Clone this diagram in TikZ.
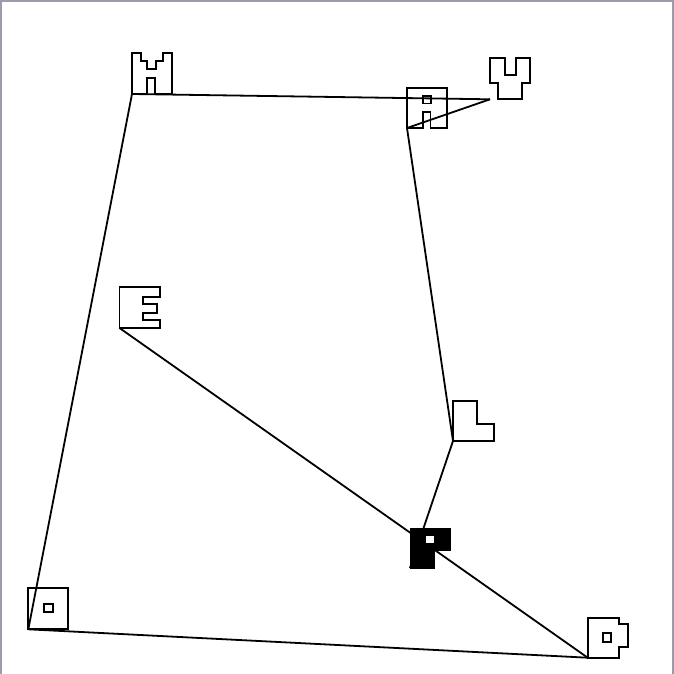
\documentclass[tikz,border=0pt]{standalone}
\begin{document}
\begin{tikzpicture}[x=1pt,y=-1pt,
  glyph/.style={draw=black,line width=1.8pt,line join=miter},
  solidglyph/.style={fill=black,draw=black,line width=1pt},
  edge/.style={draw=black,line width=1.8pt}]
\definecolor{frame}{RGB}{155,155,172}
\useasboundingbox (0,0) rectangle (674,674);
\fill[white] (0,0) rectangle (674,674);
\draw[frame,line width=2pt] (1,675) -- (1,1) -- (673,1) -- (673,675);
% anchors (bottom-left corners of glyphs)
\coordinate (castle) at (132,94);
\coordinate (gate) at (407,128);
\coordinate (cup) at (490,99.3);
\coordinate (eglyph) at (119.5,328);
\coordinate (lglyph) at (453,441);
\coordinate (pglyph) at (410,568);
\coordinate (sq) at (28.3,629.3);
\coordinate (dglyph) at (587.7,657.7);
% connectors
\draw[edge] (castle) -- (cup);
\draw[edge] (gate) -- (cup);
\draw[edge] (gate) -- (lglyph);
\draw[edge] (lglyph) -- (pglyph);
\draw[edge] (eglyph) -- (dglyph);
\draw[edge] (castle) -- (sq);
\draw[edge] (sq) -- (dglyph);
% glyphs
\draw[glyph] (132,94) -- (132,53) -- (141,53) -- (141,61) -- (146.7,61) -- (146.7,69.3) -- (156,69.3) -- (156,61) -- (162.7,61) -- (162.7,53) -- (172,53) -- (172,94) -- (155,94) -- (155,78.3) -- (146.7,78.3) -- (146.7,94) -- cycle;
\draw[glyph] (407,128) -- (407,88) -- (447,88) -- (447,128) -- (430.5,128) -- (430.5,112) -- (423,112) -- (423,128) -- cycle;
\draw[glyph] (423,96) rectangle (431,103.5);
\draw[glyph] (490,57.7) -- (505,57.7) -- (505,75) -- (515.7,75) -- (515.7,57.7) -- (530.3,57.7) -- (530.3,82.7) -- (522.3,82.7) -- (522.3,99.3) -- (498.3,99.3) -- (498.3,82.7) -- (490,82.7) -- cycle;
\draw[glyph] (119.5,287) -- (160,287) -- (160,296.7) -- (143.3,296.7) -- (143.3,304) -- (156.7,304) -- (156.7,312.7) -- (143.3,312.7) -- (143.3,320) -- (160,320) -- (160,328) -- (119.5,328) -- cycle;
\draw[glyph] (453,401) -- (477,401) -- (477,424) -- (494,424) -- (494,441) -- (453,441) -- cycle;
\draw[solidglyph] (410,528) -- (450.5,528) -- (450.5,550) -- (434.3,550) -- (434.3,568) -- (410,568) -- cycle;
\fill[white] (426,535.7) rectangle (434.3,543.3);
\draw[glyph] (28.3,588.3) rectangle (68.3,629.3);
\draw[glyph] (44.3,604) rectangle (52.7,612.3);
\draw[glyph] (587.7,617.7) -- (619.3,617.7) -- (619.3,624.3) -- (628.3,624.3) -- (628.3,646.7) -- (619.3,646.7) -- (619.3,657.7) -- (587.7,657.7) -- cycle;
\draw[glyph] (603.3,633.3) rectangle (611,641.7);
\end{tikzpicture}
\end{document}
